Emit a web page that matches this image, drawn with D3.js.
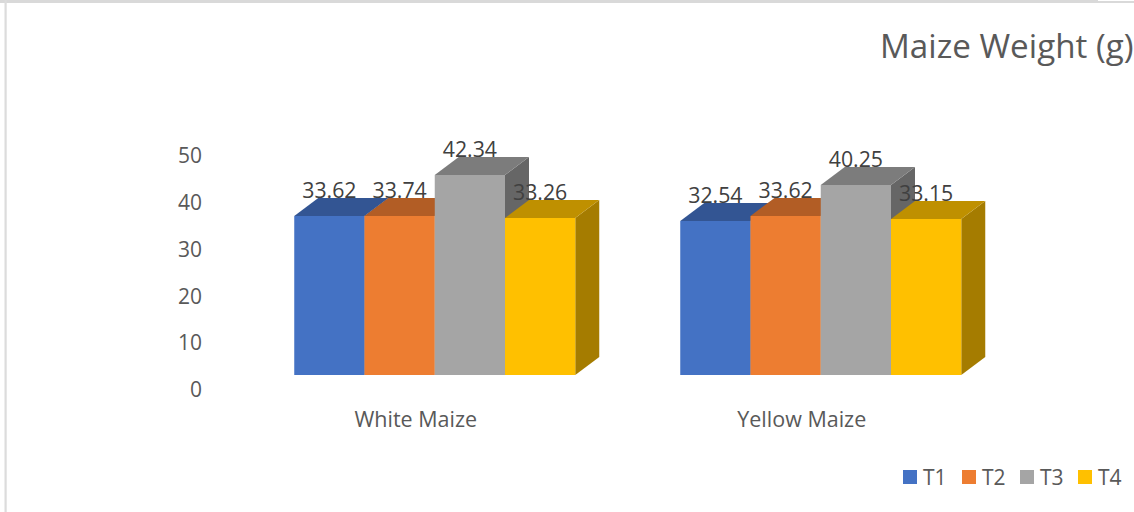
<!DOCTYPE html>
<html><head><meta charset="utf-8">
<script src="https://cdnjs.cloudflare.com/ajax/libs/d3/7.8.5/d3.min.js"></script>
<style>html,body{margin:0;padding:0;background:#fff;overflow:hidden}svg{display:block}text{font-family:"Open Sans",sans-serif}</style>
</head><body><svg id="c" width="1134" height="512"></svg>
<script>
const categories = ["White Maize", "Yellow Maize"];
const seriesNames = ["T1", "T2", "T3", "T4"];
const T1 = [33.62, 32.54];
const T2 = [33.74, 33.62];
const T3 = [42.34, 40.25];
const T4 = [33.26, 33.15];
const seriesValues = [T1, T2, T3, T4];
const yTicks = [0, 10, 20, 30, 40, 50];
const colors = ["#4472c4", "#ed7d31", "#a5a5a5", "#ffc000"];
const topColors = ["#335593", "#b25d25", "#7c7c7c", "#bf9000"];
const sideColors = ["#2a4779", "#8e4a1d", "#666666", "#a57c00"];

const svg = d3.select("#c");
const depthX = 24, depthY = 18;
const y = d3.scaleLinear().domain([0, 50]).rangeRound([375, 139]);
const x0 = d3.scaleBand().domain(categories).range([241.75, 1013.75]).paddingInner(0.272).paddingOuter(0.136);
const x1 = d3.scaleBand().domain(seriesNames).range([0, x0.bandwidth()]);

// window frame
svg.append("rect").attr("x", 0).attr("y", 0).attr("width", 1098).attr("height", 3).attr("fill", "#d9d9d9");
svg.append("rect").attr("x", 1098).attr("y", 1).attr("width", 36).attr("height", 2).attr("fill", "#d9d9d9");
svg.append("rect").attr("x", 4.5).attr("y", 0).attr("width", 2.2).attr("height", 512).attr("fill", "#dcdcdc");

svg.append("text").attr("x", 880).attr("y", 58).attr("font-size", 33.2).attr("fill", "#595959").text("Maize Weight (g)");

// y axis labels
const axisG = svg.append("g").attr("transform", "translate(202,0)")
  .call(d3.axisLeft(d3.scaleLinear().domain([0, 50]).range([390, 156])).tickValues(yTicks).tickSize(0).tickPadding(0));
axisG.select(".domain").remove();
axisG.selectAll("text").attr("font-size", 21).attr("fill", "#595959").style("font-family", '"Open Sans",sans-serif');

// category labels
const xAxisG = svg.append("g").attr("transform", "translate(-19,420)")
  .call(d3.axisBottom(x0).tickSize(0).tickPadding(0));
xAxisG.select(".domain").remove();
xAxisG.selectAll("text").attr("dy", "0.32em").attr("font-size", 21.5).attr("fill", "#595959").style("font-family", '"Open Sans",sans-serif');

// bars
categories.forEach((cat, ci) => {
  seriesNames.forEach((s, si) => {
    const v = seriesValues[si][ci];
    const l = x0(cat) + x1(s), r = l + x1.bandwidth(), t = y(v), b = y(0);
    const g = svg.append("g");
    const path = pts => d3.line()(pts) + "Z";
    g.append("path").attr("fill", sideColors[si]).attr("d", path([[r, t], [r + depthX, t - depthY], [r + depthX, b - depthY], [r, b]]));
    g.append("path").attr("fill", topColors[si]).attr("d", path([[l, t], [l + depthX, t - depthY], [r + depthX, t - depthY], [r, t]]));
    g.append("rect").attr("x", l).attr("y", t).attr("width", x1.bandwidth()).attr("height", b - t).attr("fill", colors[si]);
  });
});
// data labels
categories.forEach((cat, ci) => {
  seriesNames.forEach((s, si) => {
    const v = seriesValues[si][ci];
    svg.append("text").attr("x", x0(cat) + x1(s) + x1.bandwidth() / 2).attr("y", y(v) - 25).attr("dy", "0.32em")
      .attr("text-anchor", "middle").attr("font-size", 21.3).attr("fill", "#404040").text(v.toFixed(2));
  });
});

// legend
const lx = [903, 962, 1020, 1078];
seriesNames.forEach((s, i) => {
  svg.append("rect").attr("x", lx[i]).attr("y", 470).attr("width", 14).attr("height", 14).attr("fill", colors[i]);
  svg.append("text").attr("x", lx[i] + 20).attr("y", 477).attr("dy", "0.36em").attr("font-size", 21).attr("fill", "#595959").text(s);
});
</script></body></html>
